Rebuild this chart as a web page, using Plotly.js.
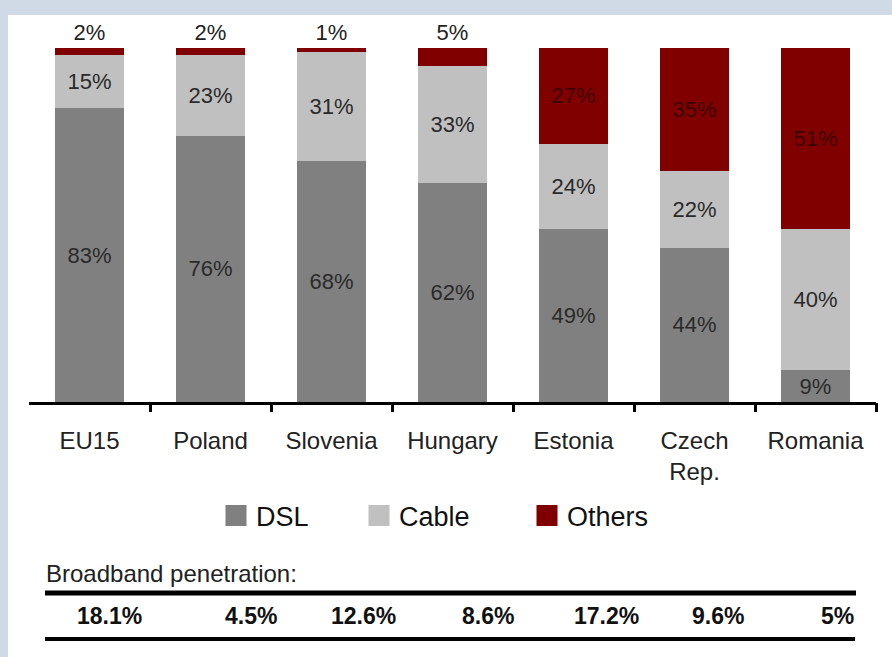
<!DOCTYPE html>
<html>
<head>
<meta charset="utf-8">
<script src="https://cdn.plot.ly/plotly-3.0.1.min.js"></script>
<style>
  html, body { margin: 0; padding: 0; background: #cfdae6; width: 892px; height: 657px; overflow: hidden; }
  #chart { position: absolute; left: 8px; top: 15px; width: 884px; height: 642px; background: #ffffff; }
</style>
</head>
<body>
<div id="chart"></div>
<script>
// ---- data ----
const countries = ['EU15', 'Poland', 'Slovenia', 'Hungary', 'Estonia', 'Czech<br>Rep.', 'Romania'];
const dsl = [83, 76, 68, 62, 49, 44, 9];
const cable = [15, 23, 31, 33, 24, 22, 40];
const others = [2, 2, 1, 5, 27, 35, 51];
const penetrationTitle = 'Broadband penetration:';
const penetration = ['18.1%', '4.5%', '12.6%', '8.6%', '17.2%', '9.6%', '5%'];

// ---- layout helpers (page pixel -> paper coords) ----
const DIV_X = 8, DIV_Y = 15, DIV_W = 884, DIV_H = 642;
const PLOT_L = 29, PLOT_R = 876, PLOT_T = 48, PLOT_B = 402;
const px = x => (x - PLOT_L) / (PLOT_R - PLOT_L);
const py = y => (PLOT_B - y) / (PLOT_B - PLOT_T);

const FONT = 'Liberation Sans, Arial, Helvetica, sans-serif';
const pct = arr => arr.map(v => v + '%');

const smallTop = others.map(v => v < 10);

const traces = [
  {
    type: 'bar', name: 'DSL', x: countries, y: dsl, text: pct(dsl),
    textposition: 'inside', insidetextanchor: 'middle', texttemplate: '%{text}',
    textfont: { family: FONT, size: 22, color: '#2a2a2a' },
    marker: { color: '#808080', line: { width: 0 } },
    constraintext: 'none', cliponaxis: false, hoverinfo: 'skip', legendwidth: 98
  },
  {
    type: 'bar', name: 'Cable', x: countries, y: cable, text: pct(cable),
    textposition: 'inside', insidetextanchor: 'middle', texttemplate: '%{text}',
    textfont: { family: FONT, size: 22, color: '#2a2a2a' },
    marker: { color: '#c0c0c0', line: { width: 0 } },
    constraintext: 'none', cliponaxis: false, hoverinfo: 'skip', legendwidth: 123
  },
  {
    type: 'bar', name: 'Others', x: countries, y: others, text: pct(others),
    textposition: smallTop.map(s => s ? 'outside' : 'inside'),
    insidetextanchor: 'middle', texttemplate: '%{text}',
    textfont: { family: FONT, size: 22, color: smallTop.map(s => s ? '#222222' : 'rgba(0,0,0,0.55)') },
    marker: { color: '#800000', line: { width: 0 } },
    constraintext: 'none', cliponaxis: false, hoverinfo: 'skip', legendwidth: 100
  },
  { type: 'scatter', x: [], y: [], xaxis: 'x2', showlegend: false, hoverinfo: 'skip' }
];

const shapes = [
  { type: 'line', xref: 'paper', yref: 'paper', x0: px(45), x1: px(856), y0: py(593), y1: py(593), line: { color: '#000', width: 5 } },
  { type: 'line', xref: 'paper', yref: 'paper', x0: px(45), x1: px(855), y0: py(639), y1: py(639), line: { color: '#000', width: 4 } }
];

const penRight = [144, 279, 398, 516, 641, 746, 856];
const annotations = [
  { xref: 'paper', yref: 'paper', x: px(44), y: py(573), xanchor: 'left', yanchor: 'middle', showarrow: false,
    text: penetrationTitle, font: { family: FONT, size: 24, color: '#222' } }
].concat(penetration.map((t, i) => ({
  xref: 'paper', yref: 'paper', x: px(penRight[i]), y: py(616), xanchor: 'right', yanchor: 'middle', showarrow: false,
  text: '<b>' + t + '</b>', font: { family: FONT, size: 23, color: '#111' }
})));

const layout = {
  width: DIV_W, height: DIV_H,
  margin: { l: PLOT_L - DIV_X, r: DIV_X + DIV_W - PLOT_R, t: PLOT_T - DIV_Y, b: DIV_Y + DIV_H - PLOT_B, pad: 0 },
  paper_bgcolor: '#ffffff', plot_bgcolor: '#ffffff',
  font: { family: FONT, color: '#222' },
  barmode: 'stack', barnorm: 'percent', bargap: 0.43,
  showlegend: true,
  legend: {
    orientation: 'h', x: px(216), xanchor: 'left', y: py(516), yanchor: 'middle',
    font: { family: FONT, size: 27, color: '#111' }, bgcolor: 'rgba(0,0,0,0)', traceorder: 'normal'
  },
  xaxis: {
    type: 'category', range: [-0.5, 6.5], showline: true, linecolor: '#000', linewidth: 3,
    ticks: '', showgrid: false, zeroline: false, automargin: false,
    tickfont: { family: FONT, size: 24, color: '#222' }, ticklabelstandoff: 15, fixedrange: true
  },
  xaxis2: {
    overlaying: 'x', anchor: 'y', side: 'bottom', type: 'linear', range: [-0.5, 6.5],
    tickvals: [0.5, 1.5, 2.5, 3.5, 4.5, 5.5, 6.5], ticks: 'outside', ticklen: 9, tickwidth: 3, tickcolor: '#000',
    showticklabels: false, showgrid: false, zeroline: false, showline: false, automargin: false, fixedrange: true
  },
  yaxis: {
    range: [0, 100], visible: false, showgrid: false, zeroline: false, automargin: false, fixedrange: true
  },
  shapes: shapes,
  annotations: annotations
};

Plotly.newPlot('chart', traces, layout, { displayModeBar: false, staticPlot: true }).then(gd => {
  gd.querySelectorAll('.legend .legendpoints path').forEach(p => {
    const t = p.getAttribute('transform') || '';
    if (t.indexOf('scale') < 0) p.setAttribute('transform', t + ' scale(1.75)');
  });
});
</script>
</body>
</html>
